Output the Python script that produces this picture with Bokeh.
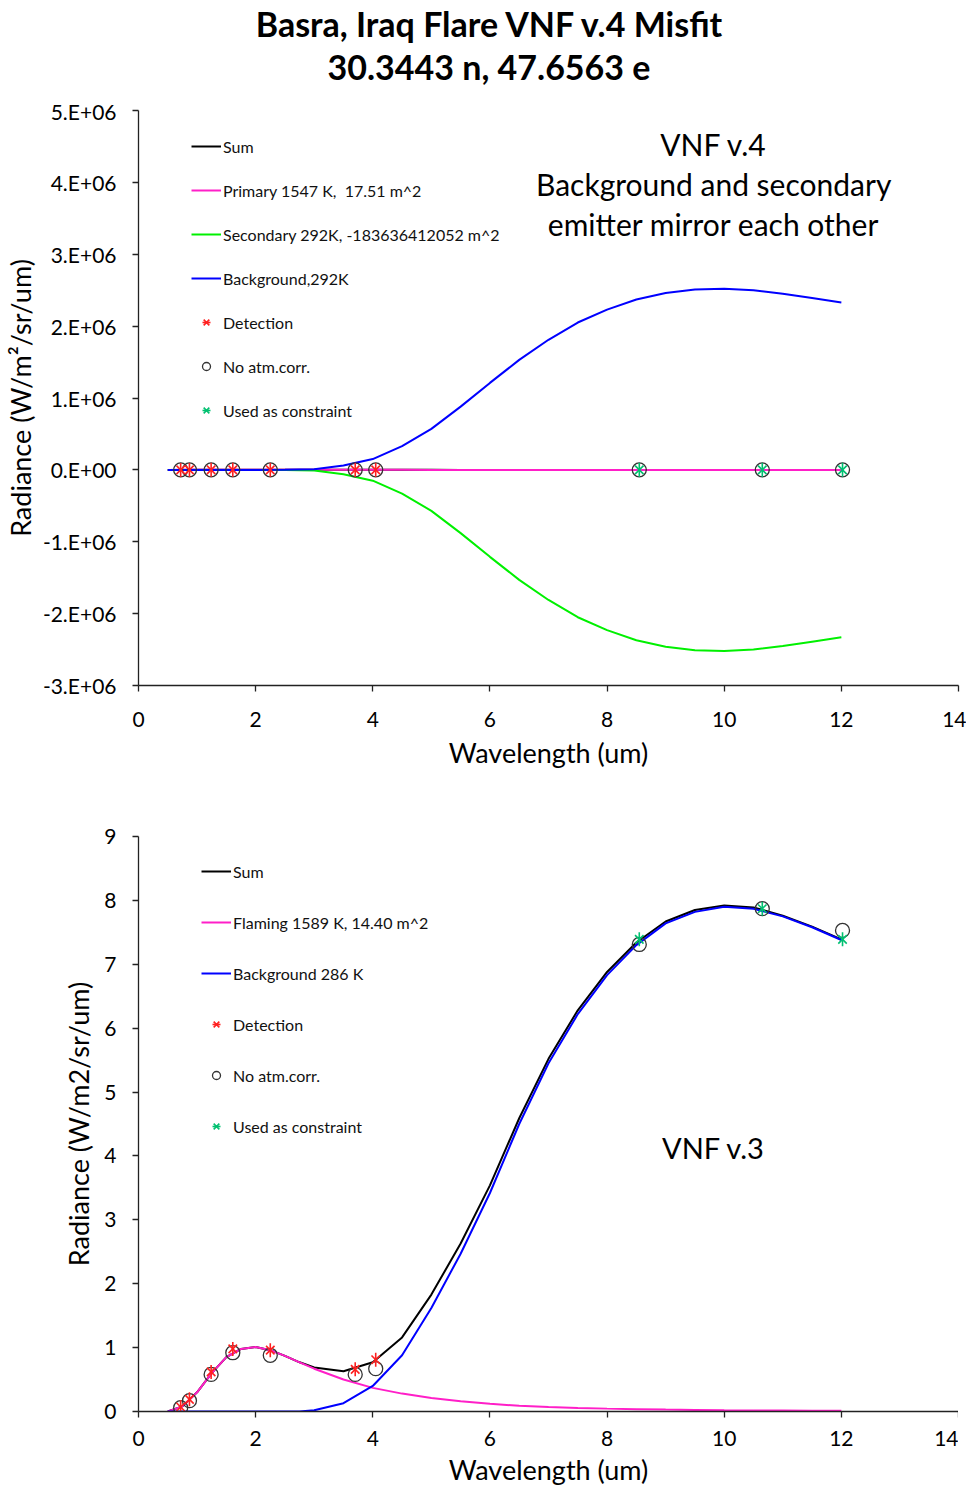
import math
from bokeh.plotting import figure
from bokeh.models import Range1d, FixedTicker, Legend, LegendItem, Label, Div
from bokeh.layouts import column
from bokeh.embed import file_html
from bokeh.resources import INLINE

# ---------------- data ----------------
title_lines = ["Basra, Iraq Flare VNF v.4 Misfit", "30.3443 n, 47.6563 e"]

# observation wavelengths (um)
band_x = [0.72, 0.87, 1.24, 1.61, 2.25, 3.70, 4.05, 8.55, 10.65, 12.02]
det_x = [0.72, 0.87, 1.24, 1.61, 2.25, 3.70, 4.05]
det_y = [0.07, 0.19, 0.62, 0.98, 0.96, 0.66, 0.81]
noatm_y = [0.06, 0.17, 0.58, 0.92, 0.88, 0.58, 0.67, 7.31, 7.87, 7.53]
con_x = [8.55, 10.65, 12.02]
con_y = [7.39, 7.87, 7.39]

# top chart (VNF v.4) model curves
top_x = [0.5, 1.0, 1.5, 2.0, 2.5, 3.0, 3.5, 4.0, 4.5, 5.0, 5.5, 6.0,
         6.5, 7.0, 7.5, 8.0, 8.5, 9.0, 9.5, 10.0, 10.5, 11.0, 11.5, 12.0]
top_sum = [0.0, 0.3, 0.85, 1.0, 0.87, 0.68, 0.51, 0.38, 0.29, 0.22, 0.17, 0.13,
           0.1, 0.08, 0.06, 0.05, 0.04, 0.03, 0.03, 0.02, 0.02, 0.01, 0.01, 0.01]
top_primary = [0.0, 0.3, 0.85, 1.0, 0.87, 0.67, 0.5, 0.37, 0.28, 0.21, 0.16, 0.12,
               0.09, 0.07, 0.055, 0.045, 0.037, 0.03, 0.025, 0.02, 0.017, 0.014, 0.012, 0.01]
top_secondary = [0.0, 0.0, 0.0, 0.0, -1.0e3, -1.0e4, -6.0e4, -1.5e5, -3.3e5, -5.7e5, -8.8e5, -1.21e6,
                 -1.53e6, -1.81e6, -2.05e6, -2.23e6, -2.37e6, -2.46e6, -2.51e6, -2.52e6, -2.50e6, -2.45e6, -2.39e6, -2.33e6]
top_background = [0.0, 0.0, 0.0, 0.0, 1.0e3, 1.0e4, 6.0e4, 1.5e5, 3.3e5, 5.7e5, 8.8e5, 1.21e6,
                  1.53e6, 1.81e6, 2.05e6, 2.23e6, 2.37e6, 2.46e6, 2.51e6, 2.52e6, 2.50e6, 2.45e6, 2.39e6, 2.33e6]

# bottom chart (VNF v.3) model curves
bot_x = [0.5, 0.75, 1.0, 1.25, 1.5, 1.75, 2.0, 2.25, 2.5, 2.75, 3.0, 3.5, 4.0, 4.5, 5.0,
         5.5, 6.0, 6.5, 7.0, 7.5, 8.0, 8.5, 9.0, 9.5, 10.0, 10.5, 11.0, 11.5, 12.0]
bot_sum = [0.0, 0.08, 0.30, 0.60, 0.85, 0.98, 1.01, 0.96, 0.87, 0.77, 0.69, 0.63, 0.77, 1.16, 1.83,
           2.63, 3.54, 4.59, 5.52, 6.28, 6.88, 7.34, 7.67, 7.85, 7.92, 7.89, 7.76, 7.59, 7.39]
bot_flaming = [0.0, 0.08, 0.30, 0.60, 0.85, 0.98, 1.01, 0.96, 0.87, 0.77, 0.67, 0.50, 0.37, 0.28, 0.21,
               0.16, 0.12, 0.09, 0.07, 0.055, 0.045, 0.037, 0.03, 0.025, 0.02, 0.017, 0.014, 0.012, 0.01]
bot_background = [0, 0, 0, 0, 0, 0, 0, 0, 0, 0, 0.02, 0.13, 0.40, 0.88, 1.62,
                  2.47, 3.42, 4.50, 5.45, 6.22, 6.83, 7.30, 7.64, 7.82, 7.90, 7.87, 7.75, 7.58, 7.38]

x_ticks = [0, 2, 4, 6, 8, 10, 12, 14]
top_y_ticks = [-3e6, -2e6, -1e6, 0, 1e6, 2e6, 3e6, 4e6, 5e6]
top_y_labels = ["-3.E+06", "-2.E+06", "-1.E+06", "0.E+00", "1.E+06", "2.E+06", "3.E+06", "4.E+06", "5.E+06"]
bot_y_ticks = [0, 1, 2, 3, 4, 5, 6, 7, 8, 9]

top_legend = ["Sum", "Primary 1547 K,  17.51 m^2", "Secondary 292K, -183636412052 m^2",
              "Background,292K", "Detection", "No atm.corr.", "Used as constraint"]
bot_legend = ["Sum", "Flaming 1589 K, 14.40 m^2", "Background 286 K",
              "Detection", "No atm.corr.", "Used as constraint"]

# ---------------- style ----------------
FONT = "Lato"
C_SUM = "#000000"
C_PRI = "#FF1FC8"
C_SEC = "#00F000"
C_BG = "#0000FF"
C_DET = "#FF2020"
C_CIR = "#333333"
C_CON = "#00C070"

title = Div(
    text=('<div style="width:958px;box-sizing:border-box;font-family:Lato,sans-serif;font-weight:bold;'
          'font-size:34px;line-height:43px;text-align:center;padding-left:10px;margin-top:-3px;color:#000">'
          + title_lines[0] + "<br>" + title_lines[1] + "</div>"),
    width=958, height=88)


def style(p, ytick_standoff, xtick_standoff, ylab_standoff):
    p.xgrid.visible = False
    p.ygrid.visible = False
    p.outline_line_color = None
    for ax in (p.xaxis, p.yaxis):
        ax.minor_tick_line_color = None
        ax.major_tick_in = 0
        ax.major_tick_out = 6
        ax.axis_line_color = "#222222"
        ax.major_tick_line_color = "#222222"
        ax.axis_line_width = 1.3
        ax.major_tick_line_width = 1.3
        ax.major_label_text_font = FONT
        ax.major_label_text_font_size = "21px"
        ax.major_label_text_color = "#000000"
        ax.axis_label_text_font = FONT
        ax.axis_label_text_font_size = "27px"
        ax.axis_label_text_font_style = "normal"
        ax.axis_label_text_color = "#000000"
    p.xaxis.ticker = FixedTicker(ticks=x_ticks)
    p.yaxis.major_label_standoff = ytick_standoff
    p.xaxis.major_label_standoff = xtick_standoff
    p.yaxis.axis_label_standoff = ylab_standoff
    p.xaxis.axis_label_standoff = 6


def markers(p, scale):
    r_c = p.scatter(band_x, [v * scale for v in noatm_y], marker="circle", size=14,
                    fill_color=None, line_color=C_CIR, line_width=1.3)
    r_dx = p.scatter(det_x, [v * scale for v in det_y], marker="x", size=12,
                     line_color=C_DET, line_width=1.6)
    r_dd = p.scatter(det_x, [v * scale for v in det_y], marker="dash", angle=math.pi / 2,
                     size=14, line_color=C_DET, line_width=1.6)
    r_cx = p.scatter(con_x, [v * scale for v in con_y], marker="x", size=12,
                     line_color=C_CON, line_width=1.6)
    r_cd = p.scatter(con_x, [v * scale for v in con_y], marker="dash", angle=math.pi / 2,
                     size=14, line_color=C_CON, line_width=1.6)
    return r_c, [r_dx, r_dd], [r_cx, r_cd]


def make_legend(items, spacing, loc):
    lg = Legend(items=items, location=loc, spacing=spacing, padding=0, margin=0,
                glyph_width=30, glyph_height=20, label_height=20, label_standoff=2,
                label_text_font=FONT, label_text_font_size="16px", label_text_color="#111111",
                border_line_color=None, background_fill_alpha=0)
    return lg


# ---------------- top chart ----------------
p1 = figure(frame_width=820, frame_height=575, x_range=Range1d(0, 14),
            y_range=Range1d(-3e6, 5e6), output_backend="svg", toolbar_location=None,
            min_border_left=130, min_border_right=8, min_border_top=12, min_border_bottom=90)
style(p1, 16, 20, 3)
p1.yaxis.ticker = FixedTicker(ticks=top_y_ticks)
p1.yaxis.major_label_overrides = {t: l for t, l in zip(top_y_ticks, top_y_labels)}
p1.xaxis.axis_label = "Wavelength (um)"
p1.yaxis.axis_label = "Radiance (W/m\u00b2/sr/um)"

r1 = p1.line(top_x, top_sum, line_color=C_SUM, line_width=2)
r2 = p1.line(top_x, top_primary, line_color=C_PRI, line_width=2)
r3 = p1.line(top_x, top_secondary, line_color=C_SEC, line_width=2)
r4 = p1.line(top_x, top_background, line_color=C_BG, line_width=2)
rc, rd, rk = markers(p1, 1.0)
leg1 = make_legend([
    LegendItem(label=top_legend[0], renderers=[r1]),
    LegendItem(label=top_legend[1], renderers=[r2]),
    LegendItem(label=top_legend[2], renderers=[r3]),
    LegendItem(label=top_legend[3], renderers=[r4]),
    LegendItem(label=top_legend[4], renderers=rd),
    LegendItem(label=top_legend[5], renderers=[rc]),
    LegendItem(label=top_legend[6], renderers=rk),
], 24, (53, 265))
p1.add_layout(leg1)
for txt, yy in (("VNF v.4", 4.53e6), ("Background and secondary", 3.98e6),
                ("emitter mirror each other", 3.42e6)):
    p1.add_layout(Label(x=9.82, y=yy, text=txt, text_align="center", text_baseline="middle",
                        text_font=FONT, text_font_size="30px", text_color="#000000"))

# ---------------- bottom chart ----------------
p2 = figure(frame_width=820, frame_height=575, x_range=Range1d(0, 14),
            y_range=Range1d(0, 9), output_backend="svg", toolbar_location=None,
            min_border_left=130, min_border_right=8, min_border_top=61, min_border_bottom=77)
style(p2, 16, 13, 6)
p2.yaxis.ticker = FixedTicker(ticks=bot_y_ticks)
p2.xaxis.axis_label = "Wavelength (um)"
p2.yaxis.axis_label = "Radiance (W/m2/sr/um)"
p2.xaxis.axis_label_standoff = 4

s1 = p2.line(bot_x, bot_sum, line_color=C_SUM, line_width=2)
s2 = p2.line(bot_x, bot_flaming, line_color=C_PRI, line_width=2)
s3 = p2.line(bot_x, bot_background, line_color=C_BG, line_width=2)
qc, qd, qk = markers(p2, 1.0)
leg2 = make_legend([
    LegendItem(label=bot_legend[0], renderers=[s1]),
    LegendItem(label=bot_legend[1], renderers=[s2]),
    LegendItem(label=bot_legend[2], renderers=[s3]),
    LegendItem(label=bot_legend[3], renderers=qd),
    LegendItem(label=bot_legend[4], renderers=[qc]),
    LegendItem(label=bot_legend[5], renderers=qk),
], 31, (63, 275))
p2.add_layout(leg2)
p2.add_layout(Label(x=9.82, y=4.13, text="VNF v.3", text_align="center", text_baseline="middle",
                    text_font=FONT, text_font_size="29px", text_color="#000000"))

layout = column(title, p1, p2, spacing=0)
open("out.html", "w").write(file_html(layout, INLINE))
